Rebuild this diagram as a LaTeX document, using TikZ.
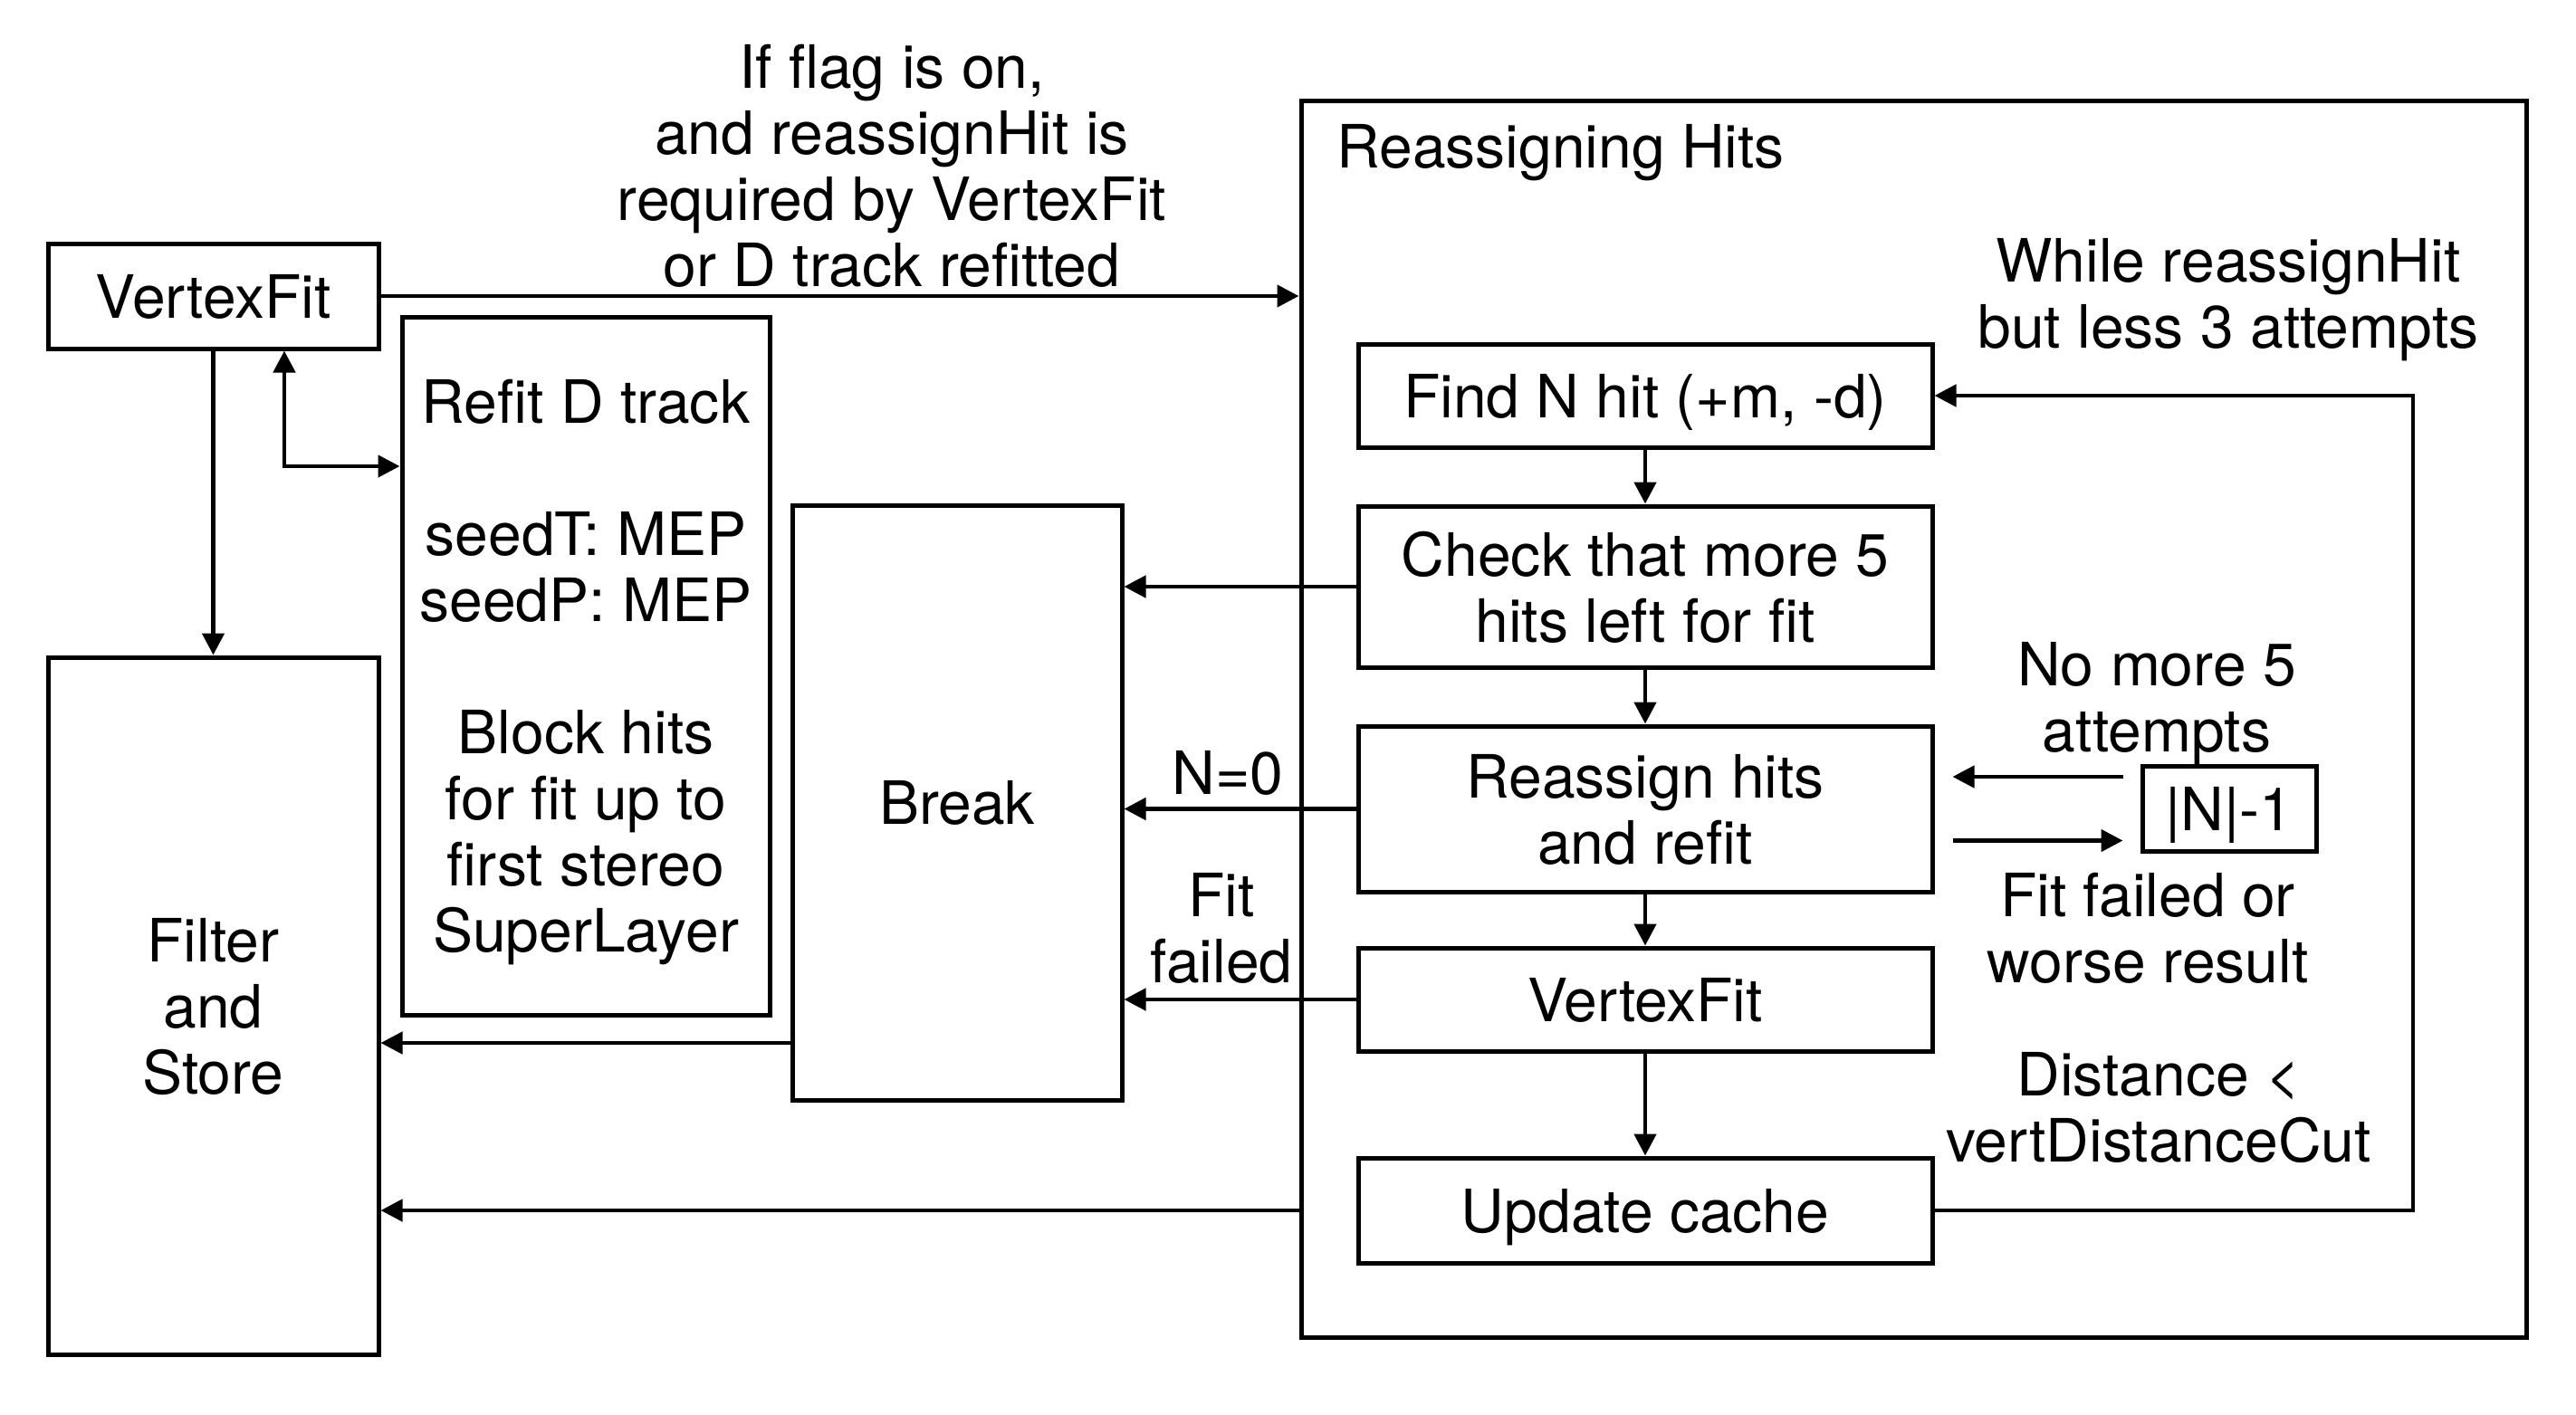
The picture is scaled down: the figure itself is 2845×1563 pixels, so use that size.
\documentclass[tikz,border=0pt]{standalone}
\usepackage{fontspec}
\setmainfont{TeX Gyre Heros}
\usetikzlibrary{arrows.meta}
\newcommand\fsz{\fontsize{33}{36.5}\selectfont}
\begin{document}
\begin{tikzpicture}[x=0.5pt,y=-0.5pt,
  box/.style={draw, line width=2.5pt, inner sep=0pt, align=center, font=\fsz, text depth=0pt},
  lbl/.style={inner sep=0pt, align=center, font=\fsz},
  arr/.style={line width=2.3pt, -{Triangle[length=12pt,width=12pt]}},
  dblarr/.style={line width=2.3pt, {Triangle[length=12pt,width=12pt]}-{Triangle[length=12pt,width=12pt]}}]
\fill[white] (0,0) rectangle (2845,1563);
\useasboundingbox (0,0) rectangle (2845,1563);
% boxes
\node[box, minimum width=182.5pt, minimum height=58pt] (vf) at (235.5,327) {VertexFit};
\node[box, minimum width=203pt, minimum height=385.5pt] (refit) at (647,735.5) {Refit D track\\[36.5pt]seedT: MEP\\seedP: MEP\\[36.5pt]Block hits\\for fit up to\\first stereo\\SuperLayer};
\node[box, minimum width=182.5pt, minimum height=385pt] (filter) at (235.5,1111) {Filter\\and\\Store};
\node[box, minimum width=182pt, minimum height=328.5pt] (brk) at (1057,886.5) {Break};
\node[box, minimum width=676.5pt, minimum height=683pt] (reas) at (2113.5,794) {};
\node[lbl, anchor=base west] (reastitle) at (1476,185) {Reassigning Hits};
\node[box, minimum width=317pt, minimum height=57pt] (find) at (1817,437) {Find N hit (+m, -d)};
\node[box, minimum width=317pt, minimum height=89pt, text depth=-4pt] (check) at (1817,648) {Check that more 5\\hits left for fit};
\node[box, minimum width=317pt, minimum height=91.5pt, text depth=-4pt] (reassign) at (1817,893.5) {Reassign hits\\and refit};
\node[box, minimum width=317pt, minimum height=57pt] (vf2) at (1817,1104) {VertexFit};
\node[box, minimum width=317pt, minimum height=58pt] (upd) at (1817,1337) {Update cache};
\node[box, minimum width=96pt, minimum height=47pt] (nm1) at (2462,893) {|N|-1};
% labels
\node[lbl] (toptxt) at (985,183.5) {If flag is on,\\and reassignHit is\\required by VertexFit\\or D track refitted};
\node[lbl] (while) at (2461,331) {While reassignHit\\but less 3 attempts};
\node[lbl] (nomore) at (2382,777) {No more 5\\attempts};
\node[lbl] (fitfail) at (2372,1025) {Fit failed or\\worse result};
\node[lbl] (dist) at (2384,1224) {Distance <\\vertDistanceCut};
\node[lbl, anchor=base] (n0) at (1356,877) {N=0};
\node[lbl] (ff) at (1349,1025) {Fit\\failed};
% helper coordinates
\coordinate (dbl) at (314,515);
\coordinate (brkout) at (0,1152);
\coordinate (loopx) at (2665,0);
% connectors
\draw[arr] (vf.east) -- (reas.west |- vf.east);
\draw[arr] (vf.south) -- (filter.north);
\draw[dblarr] (vf.south -| dbl) -- (dbl) -- (refit.west |- dbl);
\draw[arr] (check.west) -- (brk.east |- check.west);
\draw[arr] (reassign.west) -- (brk.east |- reassign.west);
\draw[arr] (vf2.west) -- (brk.east |- vf2.west);
\draw[arr] (brk.west |- brkout) -- (filter.east |- brkout);
\draw[arr] (reas.west |- upd.west) -- (filter.east |- upd.west);
\draw[arr] (upd.east) -| (loopx |- find.east) -- (find.east);
\draw[arr] (find.south) -- (check.north);
\draw[arr] (check.south) -- (reassign.north);
\draw[arr] (reassign.south) -- (vf2.north);
\draw[arr] (vf2.south) -- (upd.north);
\draw[arr, shorten <=9.5pt, shorten >=10pt] ([yshift=17.5pt]nm1.west) -- ([yshift=17.5pt]nm1.west -| reassign.east);
\draw[arr, shorten <=10pt, shorten >=9.5pt] ([yshift=-17.5pt]reassign.east) -- ([yshift=-17.5pt]reassign.east -| nm1.west);
\end{tikzpicture}
\end{document}
